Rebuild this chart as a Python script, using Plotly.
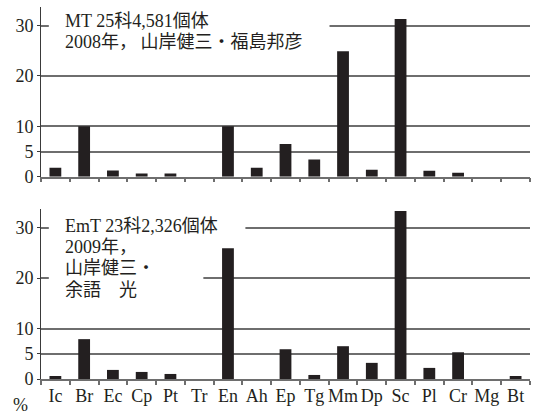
import plotly.graph_objects as go

# Family codes along the x axis
families = ["Ic", "Br", "Ec", "Cp", "Pt", "Tr", "En", "Ah", "Ep", "Tg",
            "Mm", "Dp", "Sc", "Pl", "Cr", "Mg", "Bt"]

# Share of individuals (%) per family
mt_pct = [1.8, 10.0, 1.25, 0.65, 0.65, 0.0, 10.0, 1.8, 6.5, 3.4,
          24.9, 1.4, 31.3, 1.2, 0.8, 0.0, 0.0]
emt_pct = [0.6, 7.9, 1.8, 1.4, 1.0, 0.0, 25.9, 0.0, 5.9, 0.8,
           6.5, 3.2, 33.3, 2.2, 5.3, 0.0, 0.6]

y_ticks = [0, 5, 10, 20, 30]

mt_lines = ["MT 25科4,581個体", "2008年，\u2009山岸健三・福島邦彦"]
emt_lines = ["EmT 23科2,326個体", "2009年，", "山岸健三・", "余語　光"]

FONT = "Liberation Serif, Noto Sans CJK JP, serif"
INK = "#231f20"
GRID = "#6e6e6e"
W, H = 537, 416
ML, MR = 41, 7
PW = W - ML - MR

fig = go.Figure()
fig.add_trace(go.Bar(x=families, y=mt_pct, marker=dict(color=INK, line_width=0),
                     xaxis="x", yaxis="y", showlegend=False))
fig.add_trace(go.Bar(x=families, y=emt_pct, marker=dict(color=INK, line_width=0),
                     xaxis="x2", yaxis="y2", showlegend=False))

xcommon = dict(type="category", range=[-0.5, len(families) - 0.5], showgrid=False,
               showline=True, linecolor=GRID, linewidth=1.5, ticks="outside",
               tickson="boundaries", ticklen=4, tickwidth=1.5, tickcolor=GRID,
               tickangle=0, automargin=False,
               tickfont=dict(family=FONT, size=18, color=INK))
ycommon = dict(range=[0, 33.7], tickvals=y_ticks, showgrid=True, gridcolor=GRID,
               gridwidth=1.5, zeroline=False, showline=True, linecolor="#3a3a3a",
               linewidth=1, ticks="outside", ticklen=3, tickcolor="#3a3a3a",
               automargin=False,
               tickfont=dict(family=FONT, size=18, color=INK))

top_dom = [(H - 176.7) / H, (H - 7) / H]
bot_dom = [(H - 379) / H, (H - 209) / H]

fig.update_layout(
    width=W, height=H,
    margin=dict(l=ML, r=MR, t=0, b=0, autoexpand=False),
    paper_bgcolor="white", plot_bgcolor="white",
    bargap=0.59,
    xaxis=dict(**xcommon, domain=[0, 1], anchor="y", showticklabels=False),
    yaxis=dict(**ycommon, domain=top_dom, anchor="x"),
    xaxis2=dict(**xcommon, domain=[0, 1], anchor="y2", showticklabels=True),
    yaxis2=dict(**ycommon, domain=bot_dom, anchor="x2"),
)

# White panels behind the captions hide the grid lines there
masks = [("x domain", "y", 0.016, 0.59, 28.5, 31.5),
         ("x2 domain", "y2", 0.016, 0.418, 28.5, 31.5),
         ("x2 domain", "y2", 0.016, 0.332, 18.5, 21.5)]
for xr, yr, x0, x1, y0, y1 in masks:
    fig.add_shape(type="rect", xref=xr, yref=yr, x0=x0, x1=x1, y0=y0, y1=y1,
                  fillcolor="white", line_width=0, layer="above")


def caption(lines, centers):
    for text, ypx in zip(lines, centers):
        fig.add_annotation(text=text, xref="paper", yref="paper",
                           x=(63 - ML) / PW, y=1 - ypx / H,
                           xanchor="left", yanchor="middle", showarrow=False,
                           font=dict(family=FONT, size=18, color=INK))


caption(mt_lines, [21, 42])
caption(emt_lines, [226, 247, 268, 290])

fig.add_annotation(text="%", xref="paper", yref="paper",
                   x=(20 - ML) / PW, y=1 - 405 / H,
                   xanchor="center", yanchor="middle", showarrow=False,
                   font=dict(family=FONT, size=18, color=INK))

fig.write_html("out.html")
